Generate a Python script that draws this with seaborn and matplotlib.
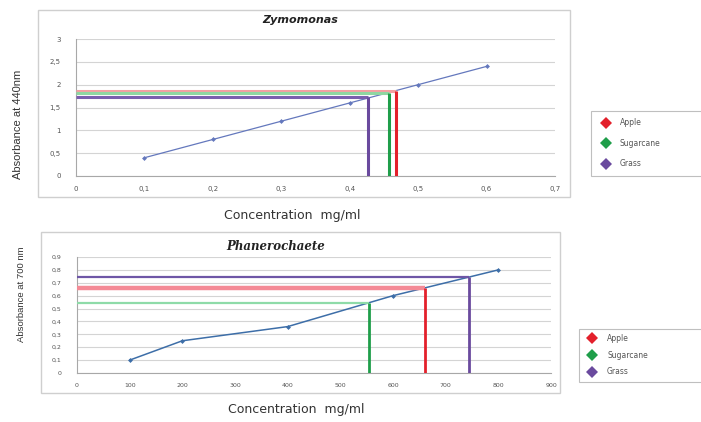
import matplotlib
matplotlib.use("Agg")
import matplotlib.pyplot as plt
import seaborn as sns
import pandas as pd
from matplotlib.patches import Rectangle
from matplotlib.lines import Line2D
from matplotlib.ticker import FuncFormatter, MultipleLocator

# Standard curve, Zymomonas (absorbance at 440 nm)
zymo_conc = [0.1, 0.2, 0.3, 0.4, 0.5, 0.6]
zymo_abs = [0.4, 0.8, 1.2, 1.6, 2.0, 2.4]

# Standard curve, Phanerochaete (absorbance at 700 nm)
phan_conc = [100, 200, 400, 600, 800]
phan_abs = [0.1, 0.25, 0.36, 0.6, 0.8]

# Samples
samples = ["Apple", "Sugarcane", "Grass"]
zymo_sample_abs = [1.87, 1.81, 1.74]
zymo_sample_conc = [0.467, 0.458, 0.427]
phan_sample_abs = [0.66, 0.545, 0.745]
phan_sample_conc = [660, 555, 745]

sample_colors = {"Apple": "#e3202b", "Sugarcane": "#1f9e4a", "Grass": "#6a4a9e"}
hline_colors_top = {"Apple": "#f3a0a2", "Sugarcane": "#8fd6a2", "Grass": "#7a5fae"}
hline_colors_bot = {"Apple": "#f48a96", "Sugarcane": "#8edba8", "Grass": "#6e56a6"}

sns.set_style("white")
plt.rcParams["font.family"] = ["DejaVu Sans"]

W, H = 701, 422
fig = plt.figure(figsize=(W / 100, H / 100), dpi=100)


def fx(px):
    return px / W


def fy(py):
    return 1 - py / H


def comma(v, pos):
    s = f"{v:.1f}".rstrip("0").rstrip(".")
    return s.replace(".", ",")


def style_axes(ax):
    for side in ("top", "right"):
        ax.spines[side].set_visible(False)
    for side in ("left", "bottom"):
        ax.spines[side].set_color("#a8a8a8")
        ax.spines[side].set_linewidth(0.8)
    ax.grid(axis="y", color="#d4d4d4", linewidth=0.8)
    ax.grid(axis="x", visible=False)
    ax.set_axisbelow(True)
    ax.tick_params(axis="both", labelsize=5, colors="#a8a8a8", labelcolor="#555555",
                   length=3, width=0.7, direction="out", pad=8)
    ax.tick_params(axis="x", pad=4)
    ax.set_xlabel("")
    ax.set_ylabel("")


# Frames around each chart
for (x0, y0, x1, y1) in [(38, 10, 570, 197), (41, 232, 560, 393)]:
    fig.patches.append(Rectangle((fx(x0), fy(y1)), fx(x1 - x0), (y1 - y0) / H,
                                 transform=fig.transFigure, fill=False,
                                 edgecolor="#cfcfcf", linewidth=1.0))

# ---- Zymomonas ----
ax1 = fig.add_axes([fx(76), fy(176), fx(555 - 76), (176 - 39) / H])
df1 = pd.DataFrame({"conc": zymo_conc, "abs": zymo_abs})
sns.lineplot(data=df1, x="conc", y="abs", ax=ax1, color="#6478bd", linewidth=0.9,
             marker="D", markersize=2.5, markeredgewidth=0)
for name, a, c in zip(samples, zymo_sample_abs, zymo_sample_conc):
    ax1.plot([0, c], [a, a], color=hline_colors_top[name], linewidth=2.2,
             solid_capstyle="butt", zorder=3)
    ax1.plot([c, c], [0, a], color=sample_colors[name], linewidth=2.2,
             solid_capstyle="butt", zorder=3)
ax1.set_xlim(0, 0.7)
ax1.set_ylim(0, 3)
ax1.xaxis.set_major_locator(MultipleLocator(0.1))
ax1.yaxis.set_major_locator(MultipleLocator(0.5))
ax1.xaxis.set_major_formatter(FuncFormatter(comma))
ax1.yaxis.set_major_formatter(FuncFormatter(comma))
style_axes(ax1)

# ---- Phanerochaete ----
ax2 = fig.add_axes([fx(77), fy(373), fx(551 - 77), (373 - 257) / H])
df2 = pd.DataFrame({"conc": phan_conc, "abs": phan_abs})
sns.lineplot(data=df2, x="conc", y="abs", ax=ax2, color="#3d6ea8", linewidth=1.1,
             marker="D", markersize=2.5, markeredgewidth=0)
for name, a, c in zip(samples, phan_sample_abs, phan_sample_conc):
    lw_h = 3.2 if name == "Apple" else 1.6
    ax2.plot([0, c], [a, a], color=hline_colors_bot[name], linewidth=lw_h,
             solid_capstyle="butt", zorder=3)
    ax2.plot([c, c], [0, a], color=sample_colors[name], linewidth=2.0,
             solid_capstyle="butt", zorder=3)
ax2.set_xlim(0, 900)
ax2.set_ylim(0, 0.9)
ax2.xaxis.set_major_locator(MultipleLocator(100))
ax2.yaxis.set_major_locator(MultipleLocator(0.1))
ax2.yaxis.set_major_formatter(FuncFormatter(comma))
style_axes(ax2)
ax2.tick_params(axis="x", labelsize=4.5)
ax2.tick_params(axis="y", labelsize=4.5)

# Titles
fig.text(fx(300), fy(20), "Zymomonas", ha="center", va="center", fontsize=8,
         fontweight="bold", fontstyle="italic", color="#222222")
fig.text(fx(276), fy(247), "Phanerochaete", ha="center", va="center", fontsize=8.5,
         fontweight="bold", fontstyle="italic", color="#222222",
         family=["DejaVu Serif"])

# Axis titles
fig.text(fx(18), fy(124), "Absorbance at 440nm", rotation=90, ha="center", va="center",
         fontsize=8, color="#333333", family=["Liberation Sans Narrow", "Liberation Sans"])
fig.text(fx(22), fy(294), "Absorbance at 700 nm", rotation=90, ha="center", va="center",
         fontsize=6.8, color="#333333", family=["Liberation Sans Narrow", "Liberation Sans"])
fig.text(fx(292), fy(215), "Concentration  mg/ml", ha="center", va="center",
         fontsize=9, color="#333333")
fig.text(fx(296), fy(410), "Concentration  mg/ml", ha="center", va="center",
         fontsize=9, color="#333333")

# Legends
handles = [Line2D([], [], linestyle="none", marker="D", markersize=6,
                  color=sample_colors[n], markeredgewidth=0) for n in samples]
leg1 = fig.legend(handles, samples, loc="upper left",
                  bbox_to_anchor=(fx(587), fy(177), 0.2, 70 / H), mode="expand",
                  fontsize=5.5, frameon=True, fancybox=False, labelspacing=1.5,
                  handletextpad=0.8, borderpad=1.0, labelcolor="#555555")
leg1.get_frame().set_edgecolor("#b0b0b0")
leg1.get_frame().set_linewidth(0.8)

leg2 = fig.legend(handles, samples, loc="upper left",
                  bbox_to_anchor=(fx(575), fy(383), 0.2, 58 / H), mode="expand",
                  fontsize=5.5, frameon=True, fancybox=False, labelspacing=1.0,
                  handletextpad=1.0, borderpad=0.7, labelcolor="#555555")
leg2.get_frame().set_edgecolor("#b0b0b0")
leg2.get_frame().set_linewidth(0.8)

fig.savefig("out.png", dpi=100)
